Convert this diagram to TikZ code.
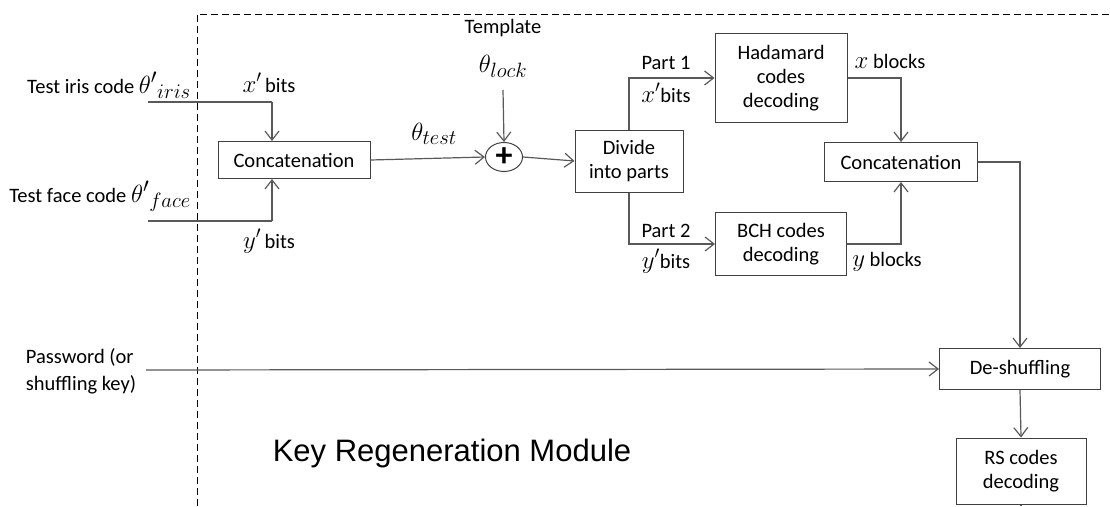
\documentclass[tikz,border=0pt]{standalone}
\usepackage{fontspec}
\setmainfont{Carlito}
\newfontfamily\titlefont{Liberation Sans}
\usetikzlibrary{arrows.meta,positioning,shapes.geometric}
\newcommand{\mth}[1]{{\fontsize{27}{29}\selectfont$#1$}}
\newcommand{\bigmth}[1]{{\fontsize{30}{32}\selectfont$#1$}}

\begin{document}
\begin{tikzpicture}[
    x=1pt, y=-1pt,
    every node/.style={font=\fontsize{20.5}{24}\selectfont},
    blk/.style={draw=black!75,line width=1pt,align=center,inner sep=2pt},
    flow/.style={-{Straight Barb[length=9pt,width=14pt]},black!65,line width=1.2pt},
    wire/.style={black!65,line width=1.2pt},
    frame/.style={black,line width=0.9pt,dash pattern=on 7pt off 4pt},
    lbl/.style={inner sep=1pt,anchor=base},
  ]
  \useasboundingbox (0,0) rectangle (1110,506);

  % module frame
  \draw[frame] (197,506) -- (197,14) -- (1110,14);

  % blocks
  \node[blk,minimum width=152pt,minimum height=37pt] (iriscat) at (294,160) {Concatenation};
  \node[draw=black!75,line width=1pt,ellipse,minimum width=37pt,minimum height=29pt,inner sep=0pt]
       (xorop) at (504,157) {\fontsize{34}{34}\selectfont\bfseries +};
  \node[blk,minimum width=108pt,minimum height=62pt] (divide) at (629,161) {Divide\\into parts};
  \node[blk,minimum width=132pt,minimum height=89pt] (hadam) at (781,78) {Hadamard\\codes\\decoding};
  \node[blk,minimum width=131pt,minimum height=63pt] (bchdec) at (781,244) {BCH codes\\decoding};
  \node[blk,minimum width=153pt,minimum height=39pt] (blockcat) at (901,162) {Concatenation};
  \node[blk,minimum width=161pt,minimum height=41pt] (deshuf) at (1020,369) {De-shuffling};
  \node[blk,minimum width=130pt,minimum height=66pt] (rsdec) at (1021,471) {RS codes\\decoding};

  % inputs
  \node[lbl,anchor=base east] (irislbl) at (192,93) {Test iris code \bigmth{\theta'{}_{iris}}};
  \node[lbl,anchor=base east] (facelbl) at (192,202) {Test face code \bigmth{\theta'{}_{face}}};
  \node[align=left,font=\fontsize{20.5}{27}\selectfont] (pwlbl) at (81,371) {Password (or\\shuffling key)};
  \coordinate (irisin) at (148,102);
  \coordinate (irisbend) at (272,102);
  \coordinate (facein) at (148,221);
  \coordinate (facebend) at (272,221);
  \coordinate (pwin) at (146,370);
  \coordinate (rsout) at (1021,506);

  % template
  \node[lbl] (tmpl) at (503,33) {Template};
  \node[lbl] (lockvar) at (503,72) {\bigmth{\theta_{lock}}};

  % connectors
  \draw[wire] (irisin) -- (irisbend);
  \draw[flow] (irisbend) -- (irisbend |- iriscat.north);
  \draw[wire] (facein) -- (facebend);
  \draw[flow] (facebend) -- (facebend |- iriscat.south);
  \draw[flow] (iriscat.east) -- (xorop.west);
  \draw[flow] (503,90) -- (xorop.north);
  \draw[flow] (xorop.east) -- (divide.west);
  \draw[flow] (divide.north) |- (hadam.west);
  \draw[flow] (divide.south) |- (bchdec.west);
  \draw[flow] (hadam.east) -| (blockcat.north);
  \draw[flow] (bchdec.east) -| (blockcat.south);
  \draw[flow] (blockcat.east) -| (deshuf.north);
  \draw[flow] (pwin) -- (deshuf.west);
  \draw[flow] (deshuf.south) -- (rsdec.north);
  \draw[wire] (rsdec.south) -- (rsout);

  % edge labels
  \node[lbl] (xbitsA) at (269,92) {\mth{x'}\,bits};
  \node[lbl] (ybitsA) at (269,248) {\mth{y'}\,bits};
  \node[lbl] (testvar) at (434,140) {\bigmth{\theta_{test}}};
  \node[lbl] (partA) at (666,69) {Part 1};
  \node[lbl] (xbitsB) at (666,102) {\mth{x'}bits};
  \node[lbl] (partB) at (666,237) {Part 2};
  \node[lbl] (ybitsB) at (666,268) {\mth{y'}bits};
  \node[lbl] (xblk) at (890,68) {\mth{x} blocks};
  \node[lbl] (yblk) at (887,266) {\mth{y} blocks};

  % module title
  \node[font=\titlefont\fontsize{31}{34}\selectfont] (title) at (452,453) {Key Regeneration Module};

\end{tikzpicture}
\end{document}
